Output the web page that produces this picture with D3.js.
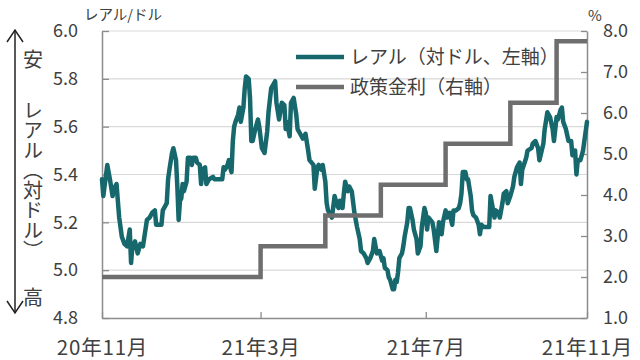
<!DOCTYPE html>
<html><head><meta charset="utf-8">
<script src="https://cdn.jsdelivr.net/npm/d3@7"></script>
<style>
body{margin:0;background:#fff}
svg{display:block}
text{font-family:"Noto Sans CJK JP","Noto Sans",sans-serif;fill:#404040}
</style>
</head><body>
<svg id="c" width="640" height="360"></svg>
<script>
// BRL per USD (left axis)
const realDates = [
"20-11-17","20-11-18","20-11-21","20-11-23","20-11-25","20-11-26","20-11-28","20-11-29","20-11-30",
"20-12-02","20-12-04","20-12-06","20-12-08","20-12-09","20-12-10","20-12-12","20-12-14","20-12-16","20-12-18",
"20-12-21","20-12-23","20-12-25","20-12-27","20-12-28",
"21-01-01","21-01-02","21-01-05","21-01-06","21-01-07","21-01-09","21-01-10","21-01-12","21-01-13","21-01-14",
"21-01-15","21-01-16","21-01-17","21-01-18","21-01-20","21-01-21","21-01-23","21-01-24","21-01-25","21-01-27",
"21-01-28","21-01-30","21-01-31",
"21-02-01","21-02-03","21-02-04","21-02-06","21-02-09","21-02-10","21-02-13","21-02-16","21-02-17","21-02-18",
"21-02-20","21-02-21","21-02-22","21-02-23","21-02-24","21-02-25","21-02-26","21-02-28",
"21-03-01","21-03-02","21-03-04","21-03-05","21-03-06","21-03-08","21-03-09","21-03-10","21-03-11","21-03-13",
"21-03-15","21-03-16","21-03-18","21-03-20","21-03-22","21-03-23","21-03-25","21-03-28","21-03-29","21-03-31",
"21-04-02","21-04-04","21-04-05","21-04-06","21-04-08","21-04-09","21-04-11","21-04-13","21-04-14","21-04-17",
"21-04-18","21-04-20","21-04-22","21-04-23","21-04-26","21-04-27","21-04-29","21-04-30",
"21-05-02","21-05-03","21-05-05","21-05-06","21-05-07","21-05-10","21-05-12","21-05-14","21-05-15","21-05-16",
"21-05-18","21-05-19","21-05-20","21-05-22","21-05-23","21-05-25","21-05-27","21-05-29","21-05-31",
"21-06-01","21-06-03","21-06-05","21-06-06","21-06-08","21-06-10","21-06-11","21-06-13","21-06-15","21-06-17",
"21-06-18","21-06-19","21-06-21","21-06-22","21-06-23","21-06-25","21-06-26","21-06-27","21-06-28","21-06-29","21-06-30",
"21-07-02","21-07-03","21-07-04","21-07-06","21-07-07","21-07-08","21-07-10","21-07-11","21-07-13","21-07-14",
"21-07-16","21-07-17","21-07-19","21-07-20","21-07-21","21-07-22","21-07-25","21-07-26","21-07-28","21-07-29","21-07-30",
"21-08-01","21-08-02","21-08-04","21-08-05","21-08-07","21-08-09","21-08-10","21-08-12","21-08-14","21-08-15",
"21-08-16","21-08-17","21-08-19","21-08-20","21-08-21","21-08-23","21-08-24","21-08-25","21-08-27","21-08-29",
"21-08-30","21-08-31",
"21-09-02","21-09-04","21-09-06","21-09-07","21-09-09","21-09-10","21-09-11","21-09-13","21-09-14","21-09-16",
"21-09-17","21-09-19","21-09-20","21-09-22","21-09-24","21-09-25","21-09-27","21-09-29","21-09-30",
"21-10-01","21-10-04","21-10-05","21-10-08","21-10-09","21-10-11","21-10-13","21-10-14","21-10-17","21-10-18",
"21-10-20","21-10-22","21-10-24","21-10-25","21-10-27","21-10-28","21-10-30","21-10-31",
"21-11-01","21-11-03","21-11-05","21-11-07","21-11-08","21-11-10","21-11-11","21-11-12","21-11-14","21-11-16",
"21-11-17","21-11-19"
];
const realValues = [
5.38,5.31,5.44,5.38,5.31,5.34,5.36,5.29,5.22,
5.14,5.11,5.10,5.17,5.03,5.10,5.12,5.07,5.11,5.10,
5.21,5.22,5.24,5.25,5.19,
5.19,5.25,5.28,5.38,5.42,5.49,5.51,5.46,5.35,5.21,
5.29,5.30,5.36,5.33,5.37,5.47,5.47,5.44,5.47,5.47,
5.45,5.44,5.36,
5.42,5.43,5.36,5.38,5.39,5.38,5.38,5.38,5.43,5.42,
5.44,5.46,5.43,5.41,5.54,5.60,5.62,5.65,
5.68,5.62,5.68,5.76,5.81,5.80,5.72,5.54,5.54,5.59,
5.63,5.60,5.51,5.49,5.58,5.66,5.76,5.79,5.70,5.63,
5.70,5.69,5.59,5.62,5.56,5.70,5.72,5.65,5.59,5.56,
5.55,5.57,5.50,5.46,5.44,5.34,5.43,5.44,
5.42,5.44,5.37,5.28,5.25,5.22,5.31,5.27,5.26,5.29,
5.26,5.32,5.37,5.33,5.35,5.33,5.24,5.18,5.13,
5.08,5.07,5.05,5.03,5.05,5.08,5.13,5.07,5.08,5.04,
5.05,5.01,5.00,4.97,4.96,4.92,4.92,4.96,4.95,4.99,5.05,
5.07,5.10,5.14,5.20,5.26,5.26,5.21,5.17,5.13,5.07,
5.10,5.18,5.26,5.24,5.17,5.22,5.20,5.17,5.08,5.14,5.20,
5.15,5.20,5.25,5.22,5.24,5.19,5.25,5.25,5.26,5.28,
5.32,5.41,5.41,5.38,5.38,5.31,5.25,5.23,5.22,5.19,
5.15,5.19,
5.18,5.18,5.18,5.31,5.25,5.22,5.25,5.24,5.22,5.28,
5.32,5.33,5.28,5.31,5.35,5.39,5.43,5.45,5.36,
5.42,5.47,5.50,5.51,5.53,5.54,5.51,5.46,5.53,5.59,
5.66,5.64,5.59,5.54,5.64,5.63,5.67,5.68,
5.62,5.59,5.54,5.54,5.48,5.50,5.40,5.46,5.46,5.50,
5.54,5.62
];
// Policy rate % (right axis), step changes
const rateDates = ["20-11-17","21-03-17","21-05-05","21-06-16","21-08-04","21-09-22","21-10-27","21-11-19"];
const rateValues = [2.00, 2.75, 3.50, 4.25, 5.25, 6.25, 7.75, 7.75];

const leftTicks = [4.8, 5.0, 5.2, 5.4, 5.6, 5.8, 6.0];
const rightTicks = [1, 2, 3, 4, 5, 6, 7, 8];
const xTickDates = ["20-11-17","21-03-17","21-07-20","21-11-19"];
const xTickLabels = ["20年11月","21年3月","21年7月","21年11月"];
const seriesNames = ["レアル（対ドル、左軸）","政策金利（右軸）"];

const parse = d3.timeParse("%y-%m-%d");
const real = realDates.map((d,i)=>({d:parse(d), v:realValues[i]}));
const rate = rateDates.map((d,i)=>({d:parse(d), v:rateValues[i]}));

const L = 102, R = 587, T = 31, B = 318;
const svg = d3.select("#c");
const x = d3.scaleTime().domain([parse(xTickDates[0]), parse(xTickDates[3])]).range([L, R]);
const yL = d3.scaleLinear().domain([4.8, 6.0]).range([B, T]);
const yR = d3.scaleLinear().domain([1, 8]).range([B, T]);

const teal = "#17686c", grey = "#6e6e6e", axisCol = "#8c8c8c";

// gridlines
svg.append("g").selectAll("line").data(leftTicks.slice(1)).join("line")
  .attr("x1", L).attr("x2", R).attr("y1", d=>yL(d)).attr("y2", d=>yL(d))
  .attr("stroke", "#d9d9d9").attr("stroke-width", 1.2);

function styleAxis(g, size){
  g.select(".domain").attr("stroke", axisCol).attr("stroke-width", 1.5);
  g.selectAll(".tick line").attr("stroke", axisCol).attr("stroke-width", 1.3);
  g.selectAll("text").attr("font-size", size).attr("fill", "#404040")
    .attr("font-family", '"Noto Sans CJK JP","Noto Sans",sans-serif');
}
const gl = svg.append("g").attr("transform", `translate(${L},0)`)
  .call(d3.axisLeft(yL).tickValues(leftTicks).tickFormat(d3.format(".1f")).tickSizeInner(-7).tickSizeOuter(0).tickPadding(24));
styleAxis(gl, 18);
const gr = svg.append("g").attr("transform", `translate(${R},0)`)
  .call(d3.axisRight(yR).tickValues(rightTicks).tickFormat(d3.format(".1f")).tickSizeInner(-6).tickSizeOuter(0).tickPadding(16));
styleAxis(gr, 18);
const gb = svg.append("g").attr("transform", `translate(0,${B})`)
  .call(d3.axisBottom(x).tickValues(xTickDates.map(parse)).tickFormat((d,i)=>xTickLabels[i]).tickSizeInner(-6).tickSizeOuter(0).tickPadding(22));
styleAxis(gb, 20.5);
gb.selectAll(".tick text").attr("letter-spacing", "0.8px");

// series
svg.append("path").datum(real)
  .attr("d", d3.line().x(d=>x(d.d)).y(d=>yL(d.v)))
  .attr("fill","none").attr("stroke", teal).attr("stroke-width", 4.5)
  .attr("stroke-linejoin","round").attr("stroke-linecap","round");
svg.append("path").datum(rate)
  .attr("d", d3.line().x(d=>x(d.d)).y(d=>yR(d.v)).curve(d3.curveStepAfter))
  .attr("fill","none").attr("stroke", grey).attr("stroke-width", 4.5);

// legend
const lg = svg.append("g");
[[teal, 57], [grey, 87]].forEach(([c, y], i)=>{
  lg.append("line").attr("x1", 296).attr("x2", 344).attr("y1", y).attr("y2", y)
    .attr("stroke", c).attr("stroke-width", 4.5);
  lg.append("text").attr("x", 350).attr("y", y).attr("dy", "0.36em")
    .attr("font-size", 19).text(seriesNames[i]);
});

// axis titles
svg.append("text").attr("x", 84).attr("y", 15).attr("dy","0.36em").attr("font-size", 14.5).text("レアル/ドル");
svg.append("text").attr("x", 588).attr("y", 16).attr("dy","0.36em").attr("font-size", 15).text("%");

// left vertical annotation
const ax = svg.append("g").attr("stroke", "#222").attr("stroke-width", 1.5).attr("fill","none");
ax.append("line").attr("x1", 15).attr("x2", 15).attr("y1", 30).attr("y2", 313);
ax.append("path").attr("d", "M7,42 L15,30 L23,42");
ax.append("path").attr("d", "M7,301 L15,313 L23,301");
svg.append("text").attr("x", 33).attr("y", 60).attr("dy","0.36em").attr("text-anchor","middle").attr("font-size", 20).text("安");
svg.append("text").attr("x", 33).attr("y", 298).attr("dy","0.36em").attr("text-anchor","middle").attr("font-size", 20).text("高");
svg.append("text").attr("x", 33).attr("y", 180).attr("text-anchor","middle")
  .attr("font-size", 20).style("writing-mode","vertical-rl").style("glyph-orientation-vertical","0")
  .text("レアル（対ドル）");
</script>
</body></html>
